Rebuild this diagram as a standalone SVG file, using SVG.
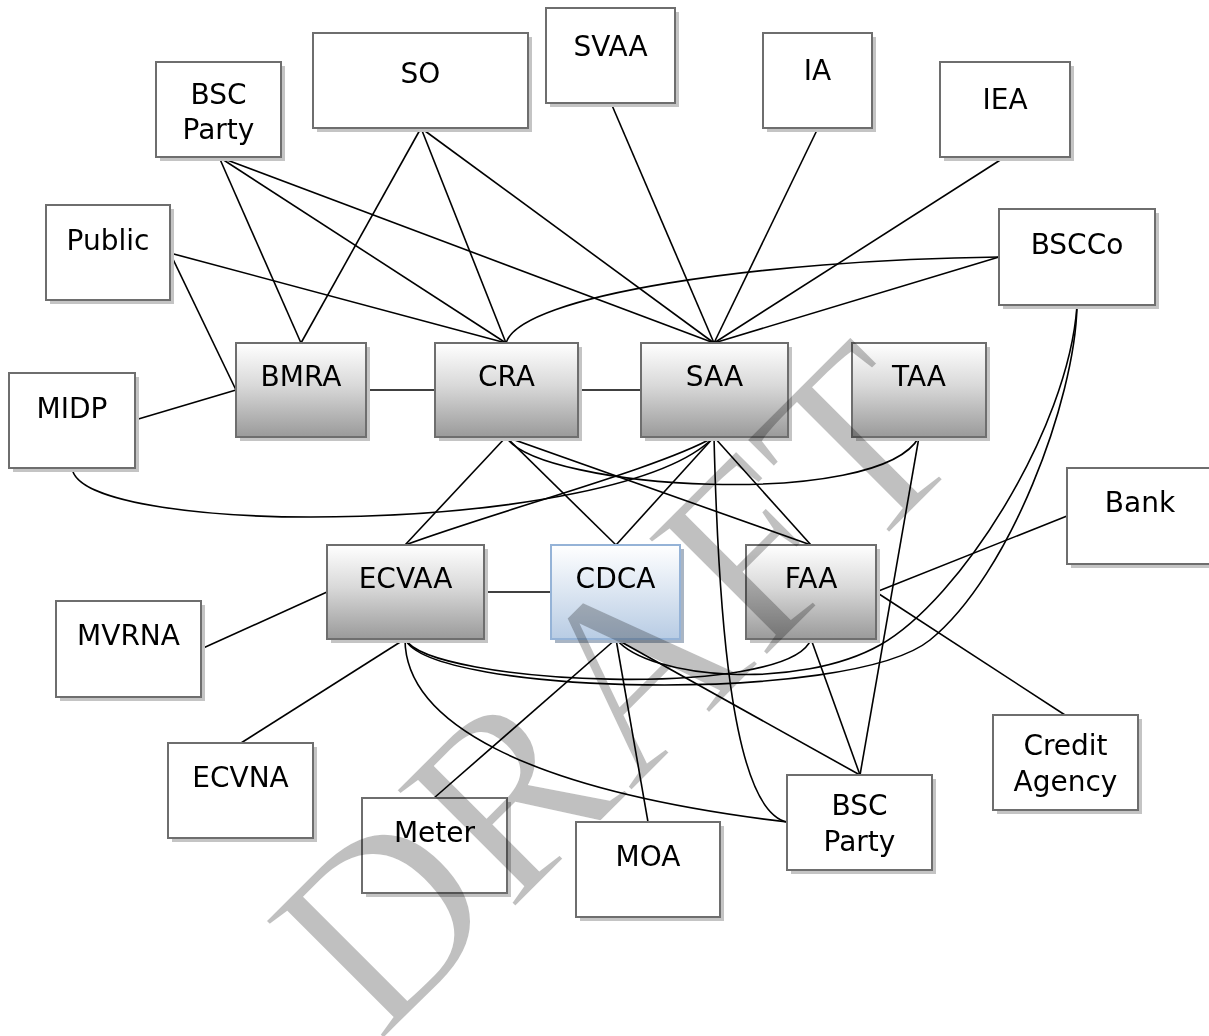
<svg xmlns="http://www.w3.org/2000/svg" width="1209" height="1036" viewBox="0 0 1209 1036">
  <defs>
    <linearGradient id="gGray" x1="0" y1="0" x2="0" y2="1">
      <stop offset="0" stop-color="#ffffff"/>
      <stop offset="0.45" stop-color="#d9d9d9"/>
      <stop offset="1" stop-color="#9a9a9a"/>
    </linearGradient>
    <linearGradient id="gBlue" x1="0" y1="0" x2="0" y2="1">
      <stop offset="0" stop-color="#ffffff"/>
      <stop offset="1" stop-color="#b8cce4"/>
    </linearGradient>
  </defs>
  <style>
    .sh{fill:#c4c4c4}
    .shb{fill:#a9b5c4}
    .bx{fill:#ffffff;stroke:#6e6e6e;stroke-width:2}
    .gr{fill:url(#gGray);stroke:#6e6e6e;stroke-width:2}
    .bl{fill:url(#gBlue);stroke:#95b3d7;stroke-width:2}
    .lbl{font-family:"DejaVu Sans",Verdana,sans-serif;font-size:28px;fill:#000000;text-anchor:middle}
    .wm{font-family:"Liberation Serif","Times New Roman",serif;font-size:256px;fill:#c0c0c0;stroke:#ffffff;stroke-width:3px;mix-blend-mode:multiply;text-anchor:middle}
    #connectors path{stroke:#000000;stroke-width:1.6;fill:none}
  </style>
  <rect width="1209" height="1036" fill="#ffffff"/>

  <g id="connectors">
    <path d="M219,157 L301,343"/>
    <path d="M219,157 L506,343"/>
    <path d="M219,157 L714,343"/>
    <path d="M421,128 L301,343"/>
    <path d="M421,128 L506,343"/>
    <path d="M421,128 L714,343"/>
    <path d="M611,103 L714,343"/>
    <path d="M818,128 L714,343"/>
    <path d="M1005,157 L714,343"/>
    <path d="M999,257 L714,343"/>
    <path d="M170,253 L506,343"/>
    <path d="M170,253 L236,390"/>
    <path d="M135,420 L236,390"/>
    <path d="M366,390 L435,390"/>
    <path d="M578,390 L641,390"/>
    <path d="M506,437 L405,545"/>
    <path d="M506,437 L616,545"/>
    <path d="M506,437 L811,545"/>
    <path d="M405,545 C500,510 660,468 714,437"/>
    <path d="M714,437 L616,545"/>
    <path d="M714,437 L811,545"/>
    <path d="M919,437 L860,775"/>
    <path d="M484,592 L551,592"/>
    <path d="M327,592 L201,649"/>
    <path d="M405,639 L241,743"/>
    <path d="M616,639 L434,798"/>
    <path d="M616,639 L648,822"/>
    <path d="M616,639 L860,775"/>
    <path d="M811,639 L860,775"/>
    <path d="M876,592 L1067,516"/>
    <path d="M876,592 L1065,715"/>
    <!-- curved links -->
    <path d="M506,343 C520,295 760,260 999,257"/>
    <path d="M72,468 C80,540 620,535 714,437"/>
    <path d="M506,437 C540,490 880,510 919,437"/>
    <path d="M405,639 C430,685 790,700 811,639"/>
    <path d="M405,639 C430,695 850,705 930,640 S1075,400 1077,306"/>
    <path d="M616,639 C650,680 800,690 880,645 S1068,430 1077,306"/>
    <path d="M405,639 C405,720 520,790 787,822"/>
    <path d="M714,437 C718,600 730,810 787,822"/>
  </g>

  <g id="node-bscparty-top">
    <rect class="sh" x="160" y="66" width="125" height="95"/>
    <rect class="bx" x="156" y="62" width="125" height="95"/>
    <text class="lbl" x="218.5" y="104">BSC</text>
    <text class="lbl" x="218.5" y="139">Party</text>
  </g>
  <g id="node-so">
    <rect class="sh" x="317" y="37" width="215" height="95"/>
    <rect class="bx" x="313" y="33" width="215" height="95"/>
    <text class="lbl" x="420.5" y="83">SO</text>
  </g>
  <g id="node-svaa">
    <rect class="sh" x="550" y="12" width="129" height="95"/>
    <rect class="bx" x="546" y="8" width="129" height="95"/>
    <text class="lbl" x="610.5" y="56">SVAA</text>
  </g>
  <g id="node-ia">
    <rect class="sh" x="767" y="37" width="109" height="95"/>
    <rect class="bx" x="763" y="33" width="109" height="95"/>
    <text class="lbl" x="817.5" y="80">IA</text>
  </g>
  <g id="node-iea">
    <rect class="sh" x="944" y="66" width="130" height="95"/>
    <rect class="bx" x="940" y="62" width="130" height="95"/>
    <text class="lbl" x="1005" y="109">IEA</text>
  </g>
  <g id="node-public">
    <rect class="sh" x="50" y="209" width="124" height="95"/>
    <rect class="bx" x="46" y="205" width="124" height="95"/>
    <text class="lbl" x="108" y="250">Public</text>
  </g>
  <g id="node-bscco">
    <rect class="sh" x="1003" y="213" width="156" height="96"/>
    <rect class="bx" x="999" y="209" width="156" height="96"/>
    <text class="lbl" x="1077" y="254">BSCCo</text>
  </g>
  <g id="node-midp">
    <rect class="sh" x="13" y="377" width="126" height="95"/>
    <rect class="bx" x="9" y="373" width="126" height="95"/>
    <text class="lbl" x="72" y="418">MIDP</text>
  </g>
  <g id="node-bmra">
    <rect class="sh" x="240" y="347" width="130" height="94"/>
    <rect class="gr" x="236" y="343" width="130" height="94"/>
    <text class="lbl" x="301" y="386">BMRA</text>
  </g>
  <g id="node-cra">
    <rect class="sh" x="439" y="347" width="143" height="94"/>
    <rect class="gr" x="435" y="343" width="143" height="94"/>
    <text class="lbl" x="506.5" y="386">CRA</text>
  </g>
  <g id="node-saa">
    <rect class="sh" x="645" y="347" width="147" height="94"/>
    <rect class="gr" x="641" y="343" width="147" height="94"/>
    <text class="lbl" x="714.5" y="386">SAA</text>
  </g>
  <g id="node-taa">
    <rect class="sh" x="856" y="347" width="134" height="94"/>
    <rect class="gr" x="852" y="343" width="134" height="94"/>
    <text class="lbl" x="919" y="386">TAA</text>
  </g>
  <g id="node-ecvaa">
    <rect class="sh" x="331" y="549" width="157" height="94"/>
    <rect class="gr" x="327" y="545" width="157" height="94"/>
    <text class="lbl" x="405.5" y="588">ECVAA</text>
  </g>
  <g id="node-cdca">
    <rect class="shb" x="555" y="549" width="129" height="94"/>
    <rect class="bl" x="551" y="545" width="129" height="94"/>
    <text class="lbl" x="615.5" y="588">CDCA</text>
  </g>
  <g id="node-faa">
    <rect class="sh" x="750" y="549" width="130" height="94"/>
    <rect class="gr" x="746" y="545" width="130" height="94"/>
    <text class="lbl" x="811" y="588">FAA</text>
  </g>
  <g id="node-bank">
    <rect class="sh" x="1071" y="472" width="146" height="96"/>
    <rect class="bx" x="1067" y="468" width="146" height="96"/>
    <text class="lbl" x="1140" y="512">Bank</text>
  </g>
  <g id="node-mvrna">
    <rect class="sh" x="60" y="605" width="145" height="96"/>
    <rect class="bx" x="56" y="601" width="145" height="96"/>
    <text class="lbl" x="128.5" y="645">MVRNA</text>
  </g>
  <g id="node-ecvna">
    <rect class="sh" x="172" y="747" width="145" height="95"/>
    <rect class="bx" x="168" y="743" width="145" height="95"/>
    <text class="lbl" x="240.5" y="787">ECVNA</text>
  </g>
  <g id="node-meter">
    <rect class="sh" x="366" y="802" width="145" height="95"/>
    <rect class="bx" x="362" y="798" width="145" height="95"/>
    <text class="lbl" x="434.5" y="842">Meter</text>
  </g>
  <g id="node-moa">
    <rect class="sh" x="580" y="826" width="144" height="95"/>
    <rect class="bx" x="576" y="822" width="144" height="95"/>
    <text class="lbl" x="648" y="866">MOA</text>
  </g>
  <g id="node-bscparty-bottom">
    <rect class="sh" x="791" y="779" width="145" height="95"/>
    <rect class="bx" x="787" y="775" width="145" height="95"/>
    <text class="lbl" x="859.5" y="815">BSC</text>
    <text class="lbl" x="859.5" y="851">Party</text>
  </g>
  <g id="node-credit-agency">
    <rect class="sh" x="997" y="719" width="145" height="95"/>
    <rect class="bx" x="993" y="715" width="145" height="95"/>
    <text class="lbl" x="1065.5" y="755">Credit</text>
    <text class="lbl" x="1065.5" y="791">Agency</text>
  </g>

  <!-- watermark -->
  <text class="wm" x="675" y="748" transform="rotate(-45 675 748)">DRAFT</text>
</svg>
